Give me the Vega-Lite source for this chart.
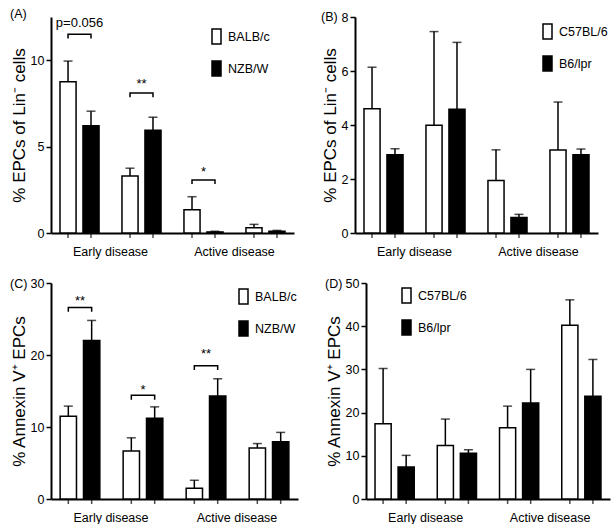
{
  "$schema": "https://vega.github.io/schema/vega-lite/v6.json",
  "background": "white",
  "padding": {"left": 10, "top": 8, "right": 0, "bottom": 0},
  "datasets": {
    "A": [
      {"group": "g1", "strain": "BALB/c", "mean": 8.75, "upper": 9.95},
      {"group": "g1", "strain": "NZB/W", "mean": 6.2, "upper": 7.05},
      {"group": "g2", "strain": "BALB/c", "mean": 3.3, "upper": 3.75},
      {"group": "g2", "strain": "NZB/W", "mean": 5.95, "upper": 6.7},
      {"group": "g3", "strain": "BALB/c", "mean": 1.35, "upper": 2.1},
      {"group": "g3", "strain": "NZB/W", "mean": 0.06, "upper": 0.1},
      {"group": "g4", "strain": "BALB/c", "mean": 0.3, "upper": 0.5},
      {"group": "g4", "strain": "NZB/W", "mean": 0.1, "upper": 0.15}
    ],
    "A_br": [
      {"group": "g1", "strain": "BALB/c", "y": 11.25, "ord": 1},
      {"group": "g1", "strain": "BALB/c", "y": 11.5, "ord": 2},
      {"group": "g1", "strain": "NZB/W", "y": 11.5, "ord": 3},
      {"group": "g1", "strain": "NZB/W", "y": 11.25, "ord": 4},
      {"group": "g2", "strain": "BALB/c", "y": 7.85, "ord": 1},
      {"group": "g2", "strain": "BALB/c", "y": 8.1, "ord": 2},
      {"group": "g2", "strain": "NZB/W", "y": 8.1, "ord": 3},
      {"group": "g2", "strain": "NZB/W", "y": 7.85, "ord": 4},
      {"group": "g3", "strain": "BALB/c", "y": 2.83, "ord": 1},
      {"group": "g3", "strain": "BALB/c", "y": 3.06, "ord": 2},
      {"group": "g3", "strain": "NZB/W", "y": 3.06, "ord": 3},
      {"group": "g3", "strain": "NZB/W", "y": 2.83, "ord": 4}
    ],
    "A_txt": [
      {"group": "g1", "y": 11.95, "label": "p=0.056"},
      {"group": "g2", "y": 8.4, "label": "**"},
      {"group": "g3", "y": 3.3, "label": "*"}
    ],
    "B": [
      {"group": "g1", "strain": "C57BL/6", "mean": 4.6, "upper": 6.14},
      {"group": "g1", "strain": "B6/lpr", "mean": 2.9, "upper": 3.12},
      {"group": "g2", "strain": "C57BL/6", "mean": 3.99, "upper": 7.46},
      {"group": "g2", "strain": "B6/lpr", "mean": 4.58, "upper": 7.06},
      {"group": "g3", "strain": "C57BL/6", "mean": 1.94, "upper": 3.08},
      {"group": "g3", "strain": "B6/lpr", "mean": 0.57, "upper": 0.69},
      {"group": "g4", "strain": "C57BL/6", "mean": 3.07, "upper": 4.85},
      {"group": "g4", "strain": "B6/lpr", "mean": 2.9, "upper": 3.11}
    ],
    "C": [
      {"group": "g1", "strain": "BALB/c", "mean": 11.5, "upper": 12.9},
      {"group": "g1", "strain": "NZB/W", "mean": 22.0, "upper": 24.8},
      {"group": "g2", "strain": "BALB/c", "mean": 6.66, "upper": 8.5},
      {"group": "g2", "strain": "NZB/W", "mean": 11.2, "upper": 12.8},
      {"group": "g3", "strain": "BALB/c", "mean": 1.48, "upper": 2.6},
      {"group": "g3", "strain": "NZB/W", "mean": 14.3, "upper": 16.7},
      {"group": "g4", "strain": "BALB/c", "mean": 7.1, "upper": 7.7},
      {"group": "g4", "strain": "NZB/W", "mean": 7.95, "upper": 9.25}
    ],
    "C_br": [
      {"group": "g1", "strain": "BALB/c", "y": 26.0, "ord": 1},
      {"group": "g1", "strain": "BALB/c", "y": 26.6, "ord": 2},
      {"group": "g1", "strain": "NZB/W", "y": 26.6, "ord": 3},
      {"group": "g1", "strain": "NZB/W", "y": 26.0, "ord": 4},
      {"group": "g2", "strain": "BALB/c", "y": 13.8, "ord": 1},
      {"group": "g2", "strain": "BALB/c", "y": 14.4, "ord": 2},
      {"group": "g2", "strain": "NZB/W", "y": 14.4, "ord": 3},
      {"group": "g2", "strain": "NZB/W", "y": 13.8, "ord": 4},
      {"group": "g3", "strain": "BALB/c", "y": 17.9, "ord": 1},
      {"group": "g3", "strain": "BALB/c", "y": 18.5, "ord": 2},
      {"group": "g3", "strain": "NZB/W", "y": 18.5, "ord": 3},
      {"group": "g3", "strain": "NZB/W", "y": 17.9, "ord": 4}
    ],
    "C_txt": [
      {"group": "g1", "y": 27.0, "label": "**"},
      {"group": "g2", "y": 14.6, "label": "*"},
      {"group": "g3", "y": 19.6, "label": "**"}
    ],
    "D": [
      {"group": "g1", "strain": "C57BL/6", "mean": 17.4, "upper": 30.2},
      {"group": "g1", "strain": "B6/lpr", "mean": 7.4, "upper": 10.1},
      {"group": "g2", "strain": "C57BL/6", "mean": 12.4, "upper": 18.5},
      {"group": "g2", "strain": "B6/lpr", "mean": 10.6, "upper": 11.4},
      {"group": "g3", "strain": "C57BL/6", "mean": 16.5, "upper": 21.5},
      {"group": "g3", "strain": "B6/lpr", "mean": 22.2, "upper": 30.0},
      {"group": "g4", "strain": "C57BL/6", "mean": 40.2, "upper": 46.1},
      {"group": "g4", "strain": "B6/lpr", "mean": 23.8, "upper": 32.3}
    ]
  },
  "spacing": 19,
  "resolve": {"scale": {"fill": "independent", "xOffset": "independent"}, "legend": {"fill": "independent"}},
  "vconcat": [
    {
      "spacing": 25,
      "resolve": {"scale": {"fill": "independent", "xOffset": "independent"}, "legend": {"fill": "independent"}},
      "hconcat": [
        {
          "width": 243, "height": 216,
          "title": {"text": "(A)", "anchor": "start", "frame": "bounds", "offset": -4},
          "layer": [
            {"data": {"name": "A"}, "mark": {"type": "bar", "stroke": "black", "strokeWidth": 1.5},
             "encoding": {
               "x": {"field": "group", "type": "nominal", "scale": {"paddingInner": 0.37, "paddingOuter": 0.145},
                     "axis": {"title": null, "ticks": false, "labelAngle": 0, "labelOverlap": false, "labelOffset": 31, "labelPadding": 12,
                              "labelExpr": "datum.value == 'g1' ? 'Early disease' : datum.value == 'g3' ? 'Active disease' : ''"}},
               "xOffset": {"field": "strain", "type": "nominal", "scale": {"domain": ["BALB/c", "NZB/W"], "paddingInner": 0.3, "paddingOuter": 0}},
               "y": {"field": "mean", "type": "quantitative", "scale": {"domain": [0, 12.5], "nice": false},
                     "axis": {"values": [0, 5, 10], "title": "% EPCs of Lin⁻ cells"}},
               "fill": {"field": "strain", "type": "nominal", "scale": {"domain": ["BALB/c", "NZB/W"], "range": ["white", "black"]},
                        "legend": {"orient": "none", "legendX": 157, "legendY": 11}}
             }},
            {"data": {"name": "A"}, "mark": {"type": "rule", "color": "black", "strokeWidth": 1.5},
             "encoding": {"x": {"field": "group", "type": "nominal"}, "xOffset": {"field": "strain", "type": "nominal"},
                          "y": {"field": "mean", "type": "quantitative"}, "y2": {"field": "upper"}}},
            {"data": {"name": "A"}, "mark": {"type": "tick", "orient": "horizontal", "size": 9, "thickness": 1.5, "color": "black"},
             "encoding": {"x": {"field": "group", "type": "nominal"}, "xOffset": {"field": "strain", "type": "nominal"},
                          "y": {"field": "upper", "type": "quantitative"}}},
            {"data": {"name": "A"}, "mark": {"type": "tick", "orient": "vertical", "size": 5, "thickness": 1.5, "color": "black", "yOffset": 2.5},
             "encoding": {"x": {"field": "group", "type": "nominal"}, "xOffset": {"field": "strain", "type": "nominal"},
                          "y": {"datum": 0, "type": "quantitative"}}},
            {"data": {"name": "A_br"}, "mark": {"type": "line", "color": "black", "strokeWidth": 1.5},
             "encoding": {"x": {"field": "group", "type": "nominal"}, "xOffset": {"field": "strain", "type": "nominal"},
                          "y": {"field": "y", "type": "quantitative"}, "order": {"field": "ord"}, "detail": {"field": "group"}}},
            {"data": {"name": "A_txt"}, "mark": {"type": "text", "fontSize": 13, "baseline": "alphabetic", "color": "black"},
             "encoding": {"x": {"field": "group", "type": "nominal"}, "y": {"field": "y", "type": "quantitative"}, "text": {"field": "label"}}}
          ]
        },
        {
          "width": 243, "height": 216,
          "title": {"text": "(B)", "anchor": "start", "frame": "bounds", "offset": -12},
          "layer": [
            {"data": {"name": "B"}, "mark": {"type": "bar", "stroke": "black", "strokeWidth": 1.5},
             "encoding": {
               "x": {"field": "group", "type": "nominal", "scale": {"paddingInner": 0.37, "paddingOuter": 0.145},
                     "axis": {"title": null, "ticks": false, "labelAngle": 0, "labelOverlap": false, "labelOffset": 31, "labelPadding": 12,
                              "labelExpr": "datum.value == 'g1' ? 'Early disease' : datum.value == 'g3' ? 'Active disease' : ''"}},
               "xOffset": {"field": "strain", "type": "nominal", "scale": {"domain": ["C57BL/6", "B6/lpr"], "paddingInner": 0.3, "paddingOuter": 0}},
               "y": {"field": "mean", "type": "quantitative", "scale": {"domain": [0, 8], "nice": false},
                     "axis": {"values": [0, 2, 4, 6, 8], "title": "% EPCs of Lin⁻ cells"}},
               "fill": {"field": "strain", "type": "nominal", "scale": {"domain": ["C57BL/6", "B6/lpr"], "range": ["white", "black"]},
                        "legend": {"orient": "none", "legendX": 184, "legendY": 6}}
             }},
            {"data": {"name": "B"}, "mark": {"type": "rule", "color": "black", "strokeWidth": 1.5},
             "encoding": {"x": {"field": "group", "type": "nominal"}, "xOffset": {"field": "strain", "type": "nominal"},
                          "y": {"field": "mean", "type": "quantitative"}, "y2": {"field": "upper"}}},
            {"data": {"name": "B"}, "mark": {"type": "tick", "orient": "horizontal", "size": 9, "thickness": 1.5, "color": "black"},
             "encoding": {"x": {"field": "group", "type": "nominal"}, "xOffset": {"field": "strain", "type": "nominal"},
                          "y": {"field": "upper", "type": "quantitative"}}},
            {"data": {"name": "B"}, "mark": {"type": "tick", "orient": "vertical", "size": 5, "thickness": 1.5, "color": "black", "yOffset": 2.5},
             "encoding": {"x": {"field": "group", "type": "nominal"}, "xOffset": {"field": "strain", "type": "nominal"},
                          "y": {"datum": 0, "type": "quantitative"}}}
          ]
        }
      ]
    },
    {
      "spacing": 25,
      "resolve": {"scale": {"fill": "independent", "xOffset": "independent"}, "legend": {"fill": "independent"}},
      "hconcat": [
        {
          "width": 247, "height": 216,
          "title": {"text": "(C)", "anchor": "start", "frame": "bounds", "offset": -13},
          "layer": [
            {"data": {"name": "C"}, "mark": {"type": "bar", "stroke": "black", "strokeWidth": 1.5},
             "encoding": {
               "x": {"field": "group", "type": "nominal", "scale": {"paddingInner": 0.37, "paddingOuter": 0.145},
                     "axis": {"title": null, "ticks": false, "labelAngle": 0, "labelOverlap": false, "labelOffset": 31, "labelPadding": 12,
                              "labelExpr": "datum.value == 'g1' ? 'Early disease' : datum.value == 'g3' ? 'Active disease' : ''"}},
               "xOffset": {"field": "strain", "type": "nominal", "scale": {"domain": ["BALB/c", "NZB/W"], "paddingInner": 0.3, "paddingOuter": 0}},
               "y": {"field": "mean", "type": "quantitative", "scale": {"domain": [0, 30], "nice": false},
                     "axis": {"values": [0, 10, 20, 30], "title": "% Annexin V⁺ EPCs"}},
               "fill": {"field": "strain", "type": "nominal", "scale": {"domain": ["BALB/c", "NZB/W"], "range": ["white", "black"]},
                        "legend": {"orient": "none", "legendX": 184, "legendY": 5}}
             }},
            {"data": {"name": "C"}, "mark": {"type": "rule", "color": "black", "strokeWidth": 1.5},
             "encoding": {"x": {"field": "group", "type": "nominal"}, "xOffset": {"field": "strain", "type": "nominal"},
                          "y": {"field": "mean", "type": "quantitative"}, "y2": {"field": "upper"}}},
            {"data": {"name": "C"}, "mark": {"type": "tick", "orient": "horizontal", "size": 9, "thickness": 1.5, "color": "black"},
             "encoding": {"x": {"field": "group", "type": "nominal"}, "xOffset": {"field": "strain", "type": "nominal"},
                          "y": {"field": "upper", "type": "quantitative"}}},
            {"data": {"name": "C"}, "mark": {"type": "tick", "orient": "vertical", "size": 5, "thickness": 1.5, "color": "black", "yOffset": 2.5},
             "encoding": {"x": {"field": "group", "type": "nominal"}, "xOffset": {"field": "strain", "type": "nominal"},
                          "y": {"datum": 0, "type": "quantitative"}}},
            {"data": {"name": "C_br"}, "mark": {"type": "line", "color": "black", "strokeWidth": 1.5},
             "encoding": {"x": {"field": "group", "type": "nominal"}, "xOffset": {"field": "strain", "type": "nominal"},
                          "y": {"field": "y", "type": "quantitative"}, "order": {"field": "ord"}, "detail": {"field": "group"}}},
            {"data": {"name": "C_txt"}, "mark": {"type": "text", "fontSize": 13, "baseline": "alphabetic", "color": "black"},
             "encoding": {"x": {"field": "group", "type": "nominal"}, "y": {"field": "y", "type": "quantitative"}, "text": {"field": "label"}}}
          ]
        },
        {
          "width": 244, "height": 216,
          "title": {"text": "(D)", "anchor": "start", "frame": "bounds", "offset": -13},
          "layer": [
            {"data": {"name": "D"}, "mark": {"type": "bar", "stroke": "black", "strokeWidth": 1.5},
             "encoding": {
               "x": {"field": "group", "type": "nominal", "scale": {"paddingInner": 0.37, "paddingOuter": 0.145},
                     "axis": {"title": null, "ticks": false, "labelAngle": 0, "labelOverlap": false, "labelOffset": 31, "labelPadding": 12,
                              "labelExpr": "datum.value == 'g1' ? 'Early disease' : datum.value == 'g3' ? 'Active disease' : ''"}},
               "xOffset": {"field": "strain", "type": "nominal", "scale": {"domain": ["C57BL/6", "B6/lpr"], "paddingInner": 0.3, "paddingOuter": 0}},
               "y": {"field": "mean", "type": "quantitative", "scale": {"domain": [0, 50], "nice": false},
                     "axis": {"values": [0, 10, 20, 30, 40, 50], "title": "% Annexin V⁺ EPCs"}},
               "fill": {"field": "strain", "type": "nominal", "scale": {"domain": ["C57BL/6", "B6/lpr"], "range": ["white", "black"]},
                        "legend": {"orient": "none", "legendX": 32, "legendY": 4}}
             }},
            {"data": {"name": "D"}, "mark": {"type": "rule", "color": "black", "strokeWidth": 1.5},
             "encoding": {"x": {"field": "group", "type": "nominal"}, "xOffset": {"field": "strain", "type": "nominal"},
                          "y": {"field": "mean", "type": "quantitative"}, "y2": {"field": "upper"}}},
            {"data": {"name": "D"}, "mark": {"type": "tick", "orient": "horizontal", "size": 9, "thickness": 1.5, "color": "black"},
             "encoding": {"x": {"field": "group", "type": "nominal"}, "xOffset": {"field": "strain", "type": "nominal"},
                          "y": {"field": "upper", "type": "quantitative"}}},
            {"data": {"name": "D"}, "mark": {"type": "tick", "orient": "vertical", "size": 5, "thickness": 1.5, "color": "black", "yOffset": 2.5},
             "encoding": {"x": {"field": "group", "type": "nominal"}, "xOffset": {"field": "strain", "type": "nominal"},
                          "y": {"datum": 0, "type": "quantitative"}}}
          ]
        }
      ]
    }
  ],
  "config": {
    "font": "Liberation Sans",
    "view": {"stroke": null},
    "axis": {"domainColor": "black", "domainWidth": 2, "tickColor": "black", "tickWidth": 1.5, "tickSize": 5,
             "labelColor": "black", "labelFontSize": 12.5, "labelPadding": 2, "grid": false,
             "titleColor": "black", "titleFontSize": 17, "titleFontWeight": "normal", "titlePadding": 2},
    "title": {"fontSize": 12.5, "fontWeight": "normal", "color": "black"},
    "legend": {"title": null, "symbolType": "M-0.6,-1H0.6V1H-0.6Z", "symbolSize": 225, "symbolStrokeColor": "black",
               "symbolStrokeWidth": 1.5, "labelFontSize": 12.5, "labelColor": "black", "labelOffset": 3, "rowPadding": 11, "padding": 0}
  }
}
